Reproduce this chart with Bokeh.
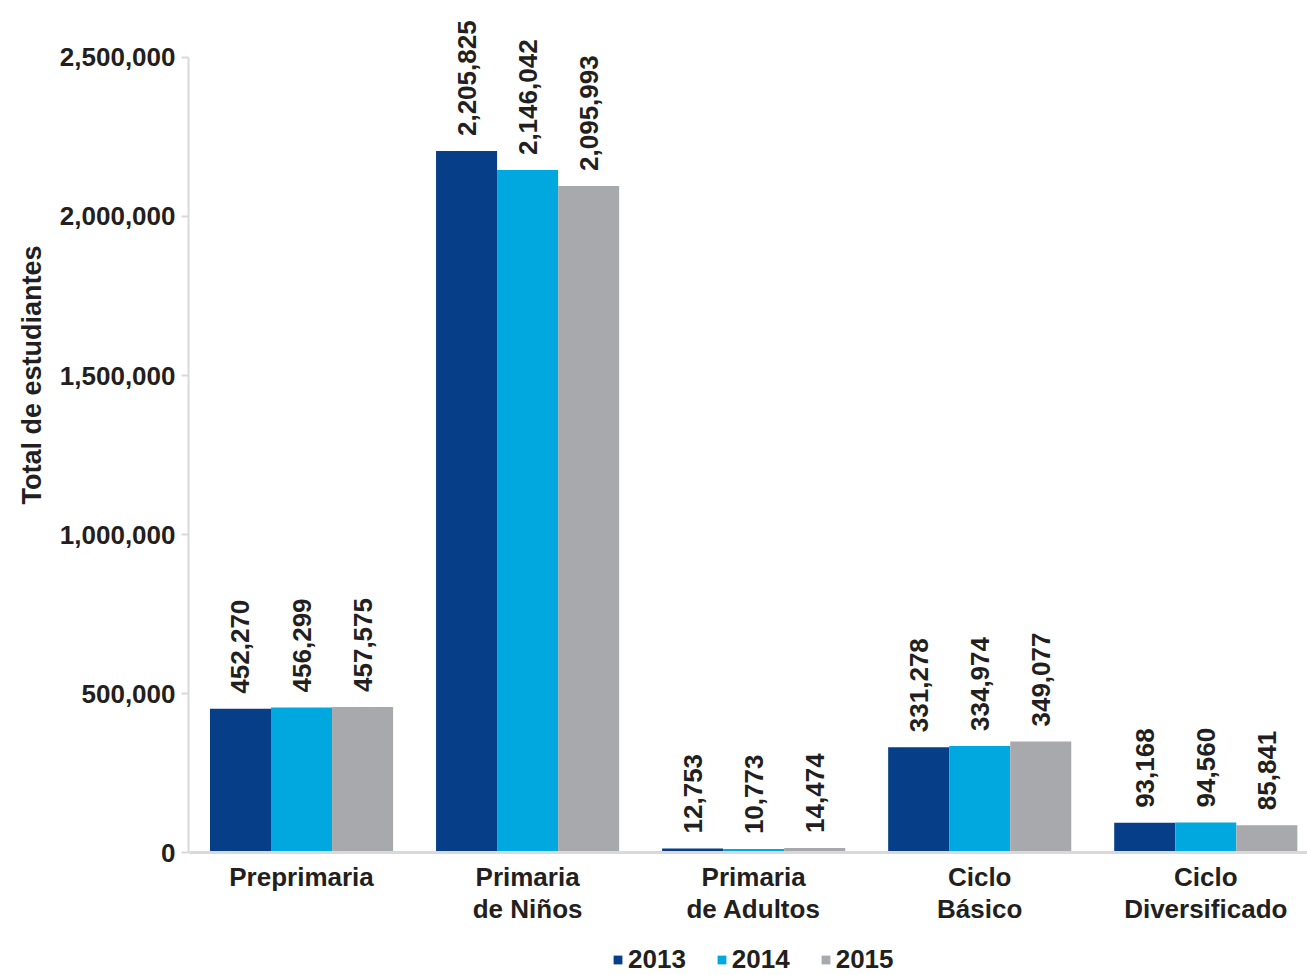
from bokeh.plotting import figure
from bokeh.models import (ColumnDataSource, FixedTicker, NumeralTickFormatter,
                          LabelSet, Legend, LegendItem, Range1d, Span, Title)
from bokeh.core.properties import value
from bokeh.embed import file_html
from bokeh.resources import INLINE

categories = ["Preprimaria", "Primaria de Niños", "Primaria de Adultos", "Ciclo Básico", "Ciclo Diversificado"]
cat_line1 = ["Preprimaria", "Primaria", "Primaria", "Ciclo", "Ciclo"]
cat_line2 = ["", "de Niños", "de Adultos", "Básico", "Diversificado"]
years = ["2013", "2014", "2015"]
v2013 = [452270, 2205825, 12753, 331278, 93168]
v2014 = [456299, 2146042, 10773, 334974, 94560]
v2015 = [457575, 2095993, 14474, 349077, 85841]
colors = ["#063f87", "#00a8e0", "#a7a9ac"]
yticks = [0, 500000, 1000000, 1500000, 2000000, 2500000]

FONT = "Liberation Sans"
TXT = "#231f20"
GRAY = "#d9d9d9"

idx = [i + 0.5 for i in range(len(categories))]
bw = 0.27
offs = [-bw, 0, bw]
data = dict(cat=categories, xc=idx, line1=cat_line1, line2=cat_line2,
            zero=[0] * len(categories))
for yr, vals, off in zip(years, [v2013, v2014, v2015], offs):
    data["y" + yr] = vals
    data["x" + yr] = [x + off for x in idx]
    data["l" + yr] = [f"{v:,}" for v in vals]
src = ColumnDataSource(data)

p = figure(x_range=Range1d(0, 4.95), y_range=Range1d(-386792, 2679245),
           width=1307, height=975, min_border_left=188, min_border_right=0,
           min_border_top=0, min_border_bottom=0,
           output_backend="svg", toolbar_location=None)

renderers = []
for yr, c in zip(years, colors):
    r = p.vbar(x="x" + yr, top="y" + yr, width=bw, source=src,
               fill_color=c, line_color=None)
    renderers.append(r)
    p.add_layout(LabelSet(x="x" + yr, y="y" + yr, text="l" + yr, source=src,
                          angle=1.5708, text_align="left", text_baseline="middle", y_offset=15,
                          text_font=value(FONT), text_font_style="bold", text_font_size="26px",
                          text_color=TXT))

for col, off in (("line1", -33), ("line2", -65)):
    p.add_layout(LabelSet(x="xc", y="zero", text=col, source=src, y_offset=off,
                          text_align="center", text_baseline="alphabetic",
                          text_font=value(FONT), text_font_style="bold",
                          text_font_size="26px", text_color=TXT))

p.add_layout(Span(location=0, dimension="width", line_color=GRAY, line_width=3))

p.xgrid.visible = False
p.ygrid.visible = False
p.xaxis.visible = False
p.outline_line_color = None

ya = p.yaxis[0]
ya.ticker = FixedTicker(ticks=yticks)
ya.formatter = NumeralTickFormatter(format="0,0")
ya.bounds = (0, 2500000)
ya.axis_line_color = GRAY
ya.axis_line_width = 2
ya.major_tick_line_color = GRAY
ya.major_tick_line_width = 2
ya.major_tick_out = 7
ya.major_tick_in = 0
ya.minor_tick_line_color = None
ya.major_label_text_font = FONT
ya.major_label_text_font_style = "bold"
ya.major_label_text_font_size = "26px"
ya.major_label_text_color = TXT
ya.major_label_standoff = 6

p.add_layout(Title(text="Total de estudiantes", align="right", offset=245,
                   text_font=FONT, text_font_style="bold", text_font_size="27px",
                   text_color=TXT, standoff=20), "left")

legend = Legend(items=[LegendItem(label=yr, renderers=[r]) for yr, r in zip(years, renderers)],
                orientation="horizontal", location=(424, 0),
                label_text_font=FONT, label_text_font_style="bold", label_text_font_size="26px",
                label_text_color=TXT, glyph_width=11, glyph_height=11, label_standoff=5,
                spacing=30, padding=0, margin=0, border_line_color=None,
                background_fill_alpha=0)
p.add_layout(legend, "center")

open("out.html", "w").write(file_html(p, INLINE))
